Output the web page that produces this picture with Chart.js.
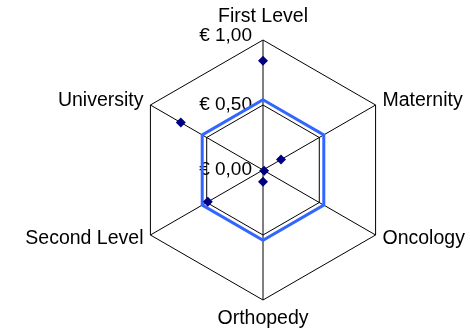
<!DOCTYPE html>
<html>
<head>
<meta charset="utf-8">
<script src="https://cdn.jsdelivr.net/npm/chart.js@4/dist/chart.umd.min.js"></script>
<style>
    html, body { margin: 0; padding: 0; background: #fff; }
    #wrap { width: 470px; height: 333px; }
</style>
</head>
<body>
<div id="wrap"><canvas id="radar"></canvas></div>
<script>
const categories = ["First Level", "Maternity", "Oncology", "Orthopedy", "Second Level", "University"];
const costValues = [0.84, 0.16, 0.01, 0.09, 0.49, 0.73];
const averageValues = [0.54, 0.54, 0.54, 0.54, 0.54, 0.54];
const tickValues = [0, 0.5, 1];
const tickLabels = ["€ 0,00", "€ 0,50", "€ 1,00"];

const fontFamily = "'Liberation Sans', Arial, sans-serif";

// category + tick labels drawn spreadsheet-style (centred on the spokes)
const labelPlugin = {
    id: "excelLabels",
    beforeDatasetsDraw(chart) {
        const scale = chart.scales.r;
        const ctx = chart.ctx;
        ctx.save();
        ctx.fillStyle = "#000";

        ctx.font = "19px " + fontFamily;
        ctx.textAlign = "right";
        tickValues.forEach(function (v, i) {
            const y = scale.yCenter - scale.getDistanceFromCenterForValue(v);
            const last = i === tickValues.length - 1;
            ctx.textBaseline = last ? "alphabetic" : "middle";
            ctx.fillText(tickLabels[i], scale.xCenter - 11, last ? y + 1 : y);
        });

        ctx.font = "19.5px " + fontFamily;
        categories.forEach(function (label, i) {
            const angle = scale.getIndexAngle(i);
            const pos = scale.getPointPosition(i, scale.drawingArea + 8);
            const s = Math.sin(angle);
            const c = Math.cos(angle);
            if (Math.abs(s) < 0.01) {
                ctx.textAlign = "center";
                if (c > 0) {
                    ctx.textBaseline = "alphabetic";
                    ctx.fillText(label, pos.x, pos.y - 10);
                } else {
                    ctx.textBaseline = "top";
                    ctx.fillText(label, pos.x, pos.y + 1);
                }
            } else {
                ctx.textAlign = s > 0 ? "left" : "right";
                ctx.textBaseline = "middle";
                ctx.fillText(label, pos.x, pos.y);
            }
        });
        ctx.restore();
    },
};

new Chart(document.getElementById("radar"), {
    type: "radar",
    data: {
        labels: categories,
        datasets: [
            {
                label: "Cost",
                data: costValues,
                showLine: false,
                borderWidth: 0,
                pointStyle: "rectRot",
                pointRadius: 5,
                pointHoverRadius: 5,
                pointBackgroundColor: "#000080",
                pointBorderColor: "#000080",
                pointBorderWidth: 0,
                fill: false,
            },
            {
                label: "Average",
                data: averageValues,
                borderColor: "#3366FF",
                borderWidth: 3,
                pointRadius: 0,
                pointHoverRadius: 0,
                fill: false,
            },
        ],
    },
    options: {
        responsive: true,
        maintainAspectRatio: false,
        animation: false,
        layout: { padding: { top: 40, bottom: 33, left: 133, right: 77 } },
        scales: {
            r: {
                min: 0,
                max: 1,
                ticks: { stepSize: 0.5, display: false },
                grid: { color: "#000", lineWidth: 1 },
                angleLines: { color: "#000", lineWidth: 1 },
                pointLabels: { display: false },
            },
        },
        plugins: {
            legend: { display: false },
            tooltip: { enabled: false },
        },
    },
    plugins: [labelPlugin],
});
</script>
</body>
</html>
